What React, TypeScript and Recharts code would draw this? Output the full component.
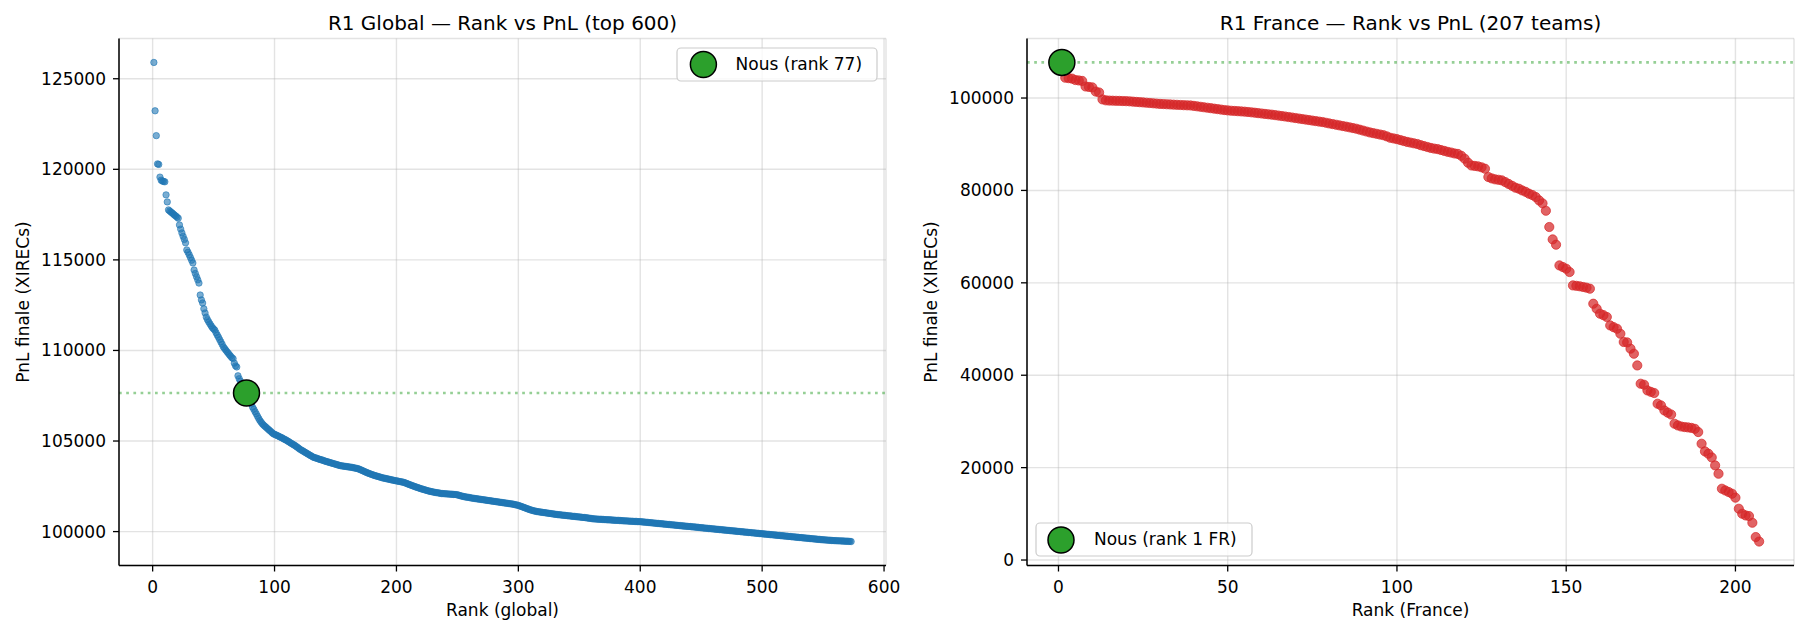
import React from "react";
import { ScatterChart, Scatter, XAxis, YAxis, CartesianGrid, ReferenceLine } from "recharts";

// PnL finale par rang (top 600 global), rang = index + 1
const GLOBAL_PNL = [
  125900, 123230, 121860, 120300, 120270, 119570, 119400, 119350, 119330, 119310,
  118590, 118200, 117760, 117700, 117640, 117590, 117530, 117470, 117420, 117360,
  117300, 116930, 116700, 116490, 116300, 116130, 115940, 115550, 115420, 115280,
  115130, 114980, 114830, 114440, 114250, 114070, 113900, 113720, 113060, 112790,
  112620, 112300, 112070, 111840, 111700, 111580, 111470, 111360, 111260, 111190,
  111120, 110980, 110850, 110730, 110600, 110470, 110340, 110200, 110110, 110020,
  109930, 109850, 109760, 109680, 109600, 109550, 109300, 109150, 109090, 108600,
  108440, 108300, 108150, 108000, 107880, 107750, 107650, 107500, 107350, 107200,
  107050, 106870, 106750, 106620, 106500, 106370, 106250, 106130, 106040, 105950,
  105880, 105820, 105760, 105700, 105640, 105580, 105520, 105460, 105400, 105370,
  105340, 105310, 105280, 105240, 105210, 105180, 105140, 105100, 105070, 105030,
  104990, 104950, 104900, 104860, 104820, 104780, 104740, 104690, 104640, 104590,
  104540, 104500, 104460, 104420, 104380, 104340, 104300, 104260, 104220, 104180,
  104140, 104100, 104080, 104060, 104040, 104010, 103990, 103970, 103950, 103930,
  103900, 103880, 103860, 103840, 103820, 103800, 103780, 103760, 103740, 103720,
  103700, 103680, 103660, 103640, 103630, 103620, 103610, 103600, 103590, 103580,
  103570, 103560, 103550, 103540, 103520, 103510, 103490, 103480, 103460, 103430,
  103400, 103370, 103340, 103310, 103280, 103250, 103220, 103200, 103170, 103150,
  103120, 103100, 103080, 103060, 103040, 103020, 103000, 102980, 102960, 102950,
  102930, 102920, 102900, 102890, 102870, 102860, 102840, 102830, 102810, 102800,
  102790, 102770, 102760, 102750, 102730, 102720, 102690, 102670, 102640, 102610,
  102590, 102560, 102540, 102510, 102490, 102460, 102440, 102420, 102390, 102370,
  102350, 102330, 102310, 102290, 102270, 102250, 102230, 102220, 102200, 102190,
  102170, 102160, 102150, 102140, 102130, 102110, 102100, 102100, 102090, 102090,
  102080, 102080, 102070, 102070, 102060, 102060, 102050, 102050, 102040, 102030,
  102010, 101990, 101970, 101950, 101940, 101920, 101910, 101900, 101890, 101880,
  101860, 101850, 101840, 101830, 101820, 101810, 101800, 101790, 101780, 101770,
  101760, 101750, 101740, 101730, 101720, 101710, 101700, 101690, 101680, 101670,
  101660, 101650, 101640, 101630, 101620, 101610, 101600, 101590, 101580, 101570,
  101560, 101550, 101540, 101530, 101520, 101510, 101490, 101480, 101460, 101450,
  101420, 101400, 101370, 101350, 101320, 101300, 101270, 101250, 101220, 101200,
  101180, 101160, 101140, 101130, 101110, 101100, 101090, 101080, 101070, 101060,
  101050, 101040, 101030, 101020, 101010, 101000, 100990, 100980, 100970, 100960,
  100950, 100940, 100930, 100930, 100920, 100910, 100900, 100900, 100890, 100880,
  100870, 100870, 100860, 100850, 100840, 100840, 100830, 100820, 100810, 100810,
  100800, 100790, 100780, 100780, 100770, 100760, 100750, 100740, 100730, 100720,
  100710, 100700, 100700, 100690, 100690, 100680, 100680, 100680, 100670, 100670,
  100660, 100660, 100650, 100650, 100650, 100640, 100640, 100630, 100630, 100620,
  100620, 100620, 100610, 100610, 100600, 100600, 100590, 100590, 100590, 100580,
  100580, 100570, 100570, 100570, 100560, 100560, 100560, 100550, 100550, 100550,
  100540, 100530, 100530, 100520, 100510, 100510, 100500, 100490, 100490, 100480,
  100470, 100470, 100460, 100450, 100450, 100440, 100430, 100430, 100420, 100410,
  100410, 100400, 100390, 100390, 100380, 100370, 100370, 100360, 100350, 100350,
  100340, 100330, 100330, 100320, 100310, 100310, 100300, 100290, 100290, 100280,
  100280, 100270, 100260, 100260, 100250, 100240, 100240, 100230, 100220, 100210,
  100210, 100200, 100190, 100190, 100180, 100170, 100170, 100160, 100150, 100150,
  100140, 100130, 100130, 100120, 100110, 100110, 100100, 100090, 100090, 100080,
  100070, 100070, 100060, 100050, 100050, 100040, 100030, 100030, 100020, 100010,
  100010, 100000, 99990, 99990, 99980, 99970, 99970, 99960, 99950, 99950,
  99940, 99930, 99930, 99920, 99910, 99910, 99900, 99890, 99890, 99880,
  99870, 99870, 99860, 99850, 99850, 99840, 99830, 99830, 99820, 99810,
  99810, 99800, 99790, 99790, 99780, 99770, 99770, 99760, 99750, 99750,
  99740, 99730, 99730, 99720, 99710, 99710, 99700, 99690, 99690, 99680,
  99670, 99670, 99660, 99650, 99650, 99640, 99630, 99630, 99620, 99610,
  99610, 99600, 99590, 99590, 99580, 99570, 99570, 99560, 99550, 99550,
  99540, 99540, 99530, 99530, 99520, 99520, 99510, 99510, 99500, 99500,
  99500, 99490, 99490, 99490, 99480, 99480, 99480, 99470, 99470, 99470,
  99460, 99460, 99450,
];

// 207 équipes françaises
const FRANCE_PNL = [
  107700, 104400, 104300, 104200, 103900, 103800, 103700, 102500, 102400, 102300,
  101400, 101200, 99700, 99500, 99450, 99420, 99400, 99380, 99350, 99320,
  99280, 99220, 99160, 99100, 99050, 98980, 98920, 98860, 98790, 98730,
  98690, 98650, 98610, 98570, 98530, 98490, 98450, 98420, 98390, 98300,
  98200, 98100, 98000, 97900, 97800, 97700, 97600, 97500, 97400, 97320,
  97250, 97200, 97150, 97100, 97050, 96980, 96900, 96820, 96730, 96650,
  96560, 96480, 96400, 96300, 96200, 96100, 96000, 95890, 95780, 95670,
  95560, 95450, 95340, 95230, 95120, 95010, 94900, 94800, 94650, 94500,
  94360, 94220, 94080, 93940, 93800, 93650, 93500, 93350, 93150, 92950,
  92750, 92550, 92400, 92250, 92100, 91950, 91700, 91400, 91250, 91100,
  90900, 90700, 90500, 90350, 90200, 90050, 89800, 89600, 89400, 89200,
  89050, 88950, 88750, 88550, 88350, 88200, 88000, 87900, 87500, 86860,
  86000, 85400, 85300, 85200, 85000, 84700, 82900, 82600, 82400, 82300,
  82170, 81800, 81400, 81000, 80600, 80370, 80000, 79700, 79290, 79000,
  78570, 77840, 77200, 75600, 72080, 69400, 68250, 63770, 63420, 63050,
  62340, 59440, 59350, 59250, 59100, 58950, 58730, 55480, 54390, 53310,
  53000, 52600, 50780, 50400, 50060, 48980, 47190, 47100, 45740, 44650,
  42120, 38160, 37940, 36710, 36400, 36150, 33830, 33460, 32380, 31900,
  31500, 29500, 29130, 28900, 28780, 28700, 28600, 28400, 27700, 25170,
  23510, 23010, 22200, 20480, 18680, 15430, 15060, 14720, 14350, 13500,
  11100, 10020, 9650, 9520, 8070, 4970, 4000,
];

const NOUS_GLOBAL = { rank: 77, pnl: 107650 };
const NOUS_FR = { rank: 1, pnl: 107700 };

const GLOBAL_X_TICKS = [0, 100, 200, 300, 400, 500, 600];
const GLOBAL_Y_TICKS = [100000, 105000, 110000, 115000, 120000, 125000];
const FR_X_TICKS = [0, 50, 100, 150, 200];
const FR_Y_TICKS = [0, 20000, 40000, 60000, 80000, 100000];

const globalData = GLOBAL_PNL.map((pnl, i) => ({ rank: i + 1, pnl }));
const franceData = FRANCE_PNL.map((pnl, i) => ({ rank: i + 1, pnl }));

const FONT = "DejaVu Sans";
const GREEN = "#2ca02c";

const dot = (r: number, color: string, alpha: number) => (p: any) => (
  <circle cx={p.cx} cy={p.cy} r={r} fill={color} fillOpacity={alpha}
    stroke={color} strokeOpacity={alpha} strokeWidth={1} />
);

const nousDot = (p: any) => (
  <circle cx={p.cx} cy={p.cy} r={13} fill={GREEN} stroke="#000" strokeWidth={1.5} />
);

const tickStyle = { fill: "#000", fontSize: 17, fontFamily: FONT };
const axisStyle = { stroke: "#000", strokeWidth: 1.5 };
const tickLineStyle = { stroke: "#000", strokeWidth: 1.3 };

function Panel({ data, nous, xDomain, yDomain, xTicks, yTicks, color, r, alpha, yAxisWidth, rightMargin }: any) {
  return (
    <ScatterChart width={903} height={634}
      margin={{ top: 38.5, right: rightMargin, bottom: 38.5, left: 0 }}>
      <CartesianGrid stroke="#b0b0b0" strokeOpacity={0.35} strokeWidth={1.4} />
      <XAxis type="number" dataKey="rank" domain={xDomain} ticks={xTicks} allowDataOverflow
        interval={0} height={30} tickSize={6} tickMargin={9}
        axisLine={axisStyle} tickLine={tickLineStyle} tick={tickStyle} />
      <YAxis type="number" dataKey="pnl" domain={yDomain} ticks={yTicks} allowDataOverflow
        interval={0} width={yAxisWidth} tickSize={6} tickMargin={7}
        axisLine={axisStyle} tickLine={tickLineStyle} tick={tickStyle} />
      <ReferenceLine y={nous.pnl} stroke={GREEN} strokeOpacity={0.5}
        strokeWidth={2.7} strokeDasharray="2.7 4.5" />
      <Scatter data={data} shape={dot(r, color, alpha)} isAnimationActive={false} />
      <Scatter data={[nous]} shape={nousDot} isAnimationActive={false} />
    </ScatterChart>
  );
}

export default function App() {
  return (
    <div style={{ position: "absolute", left: 0, top: 0, width: 1806, height: 634, background: "#fff" }}>
      <div style={{ position: "absolute", left: 0, top: 0 }}>
        <Panel data={globalData} nous={NOUS_GLOBAL} xDomain={[-27.6, 601.6]} yDomain={[98128, 127222]}
          xTicks={GLOBAL_X_TICKS} yTicks={GLOBAL_Y_TICKS} color="#1f77b4" r={3.2} alpha={0.6}
          yAxisWidth={119} rightMargin={17} />
      </div>
      <div style={{ position: "absolute", left: 903, top: 0 }}>
        <Panel data={franceData} nous={NOUS_FR} xDomain={[-9.3, 217.3]} yDomain={[-1185, 112885]}
          xTicks={FR_X_TICKS} yTicks={FR_Y_TICKS} color="#d62728" r={4.6} alpha={0.72}
          yAxisWidth={124} rightMargin={12} />
      </div>
      <svg width={1806} height={634} style={{ position: "absolute", left: 0, top: 0, pointerEvents: "none" }}
        fontFamily={FONT} fill="#000">
        <text x={502.5} y={29.5} fontSize={20} textAnchor="middle">R1 Global — Rank vs PnL (top 600)</text>
        <text x={1410.5} y={29.5} fontSize={20} textAnchor="middle">R1 France — Rank vs PnL (207 teams)</text>
        <text x={502.5} y={616} fontSize={17} textAnchor="middle">Rank (global)</text>
        <text x={1410.5} y={616} fontSize={17} textAnchor="middle">Rank (France)</text>
        <text transform="translate(29,302) rotate(-90)" fontSize={17} textAnchor="middle">PnL finale (XIRECs)</text>
        <text transform="translate(937,302) rotate(-90)" fontSize={17} textAnchor="middle">PnL finale (XIRECs)</text>

        <rect x={677} y={48} width={200} height={33} rx={4} fill="#fff" fillOpacity={0.8} stroke="#cccccc" strokeWidth={1.2} />
        <circle cx={703.4} cy={64.5} r={13} fill={GREEN} stroke="#000" strokeWidth={1.5} />
        <text x={735.6} y={70} fontSize={17}>Nous (rank 77)</text>

        <rect x={1036} y={523} width={216} height={33} rx={4} fill="#fff" fillOpacity={0.8} stroke="#cccccc" strokeWidth={1.2} />
        <circle cx={1061} cy={540} r={13} fill={GREEN} stroke="#000" strokeWidth={1.5} />
        <text x={1094} y={545} fontSize={17}>Nous (rank 1 FR)</text>
      </svg>
    </div>
  );
}
